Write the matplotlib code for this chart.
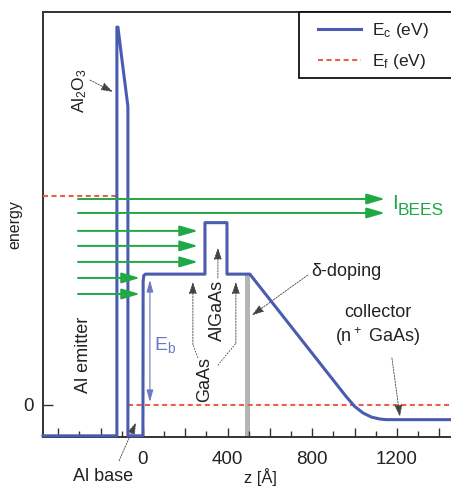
import numpy as np
import matplotlib
matplotlib.use("Agg")
import matplotlib.pyplot as plt
import matplotlib.ticker as ticker
from matplotlib.patches import Rectangle

plt.rcParams['font.family'] = ['Liberation Sans', 'DejaVu Sans']
plt.rcParams['mathtext.default'] = 'regular'

# conduction band edge (z in Angstrom, energy in eV)
ec_z = [-472, -123, -123, -118, -100, -85, -71, -71, 0, 1, 4, 12, 293, 293, 397, 397,
        505, 600, 700, 800, 900, 960, 1000, 1040, 1080, 1120, 1150, 1480]
ec_e = [-0.21, -0.21, 2.57, 2.57, 2.36, 2.19, 2.03, -0.21, -0.21, 0.84, 0.88, 0.89, 0.89, 1.24,
        1.24, 0.89, 0.89, 0.716, 0.533, 0.35, 0.167, 0.057, -0.01, -0.055, -0.083, -0.096,
        -0.10, -0.10]

# fermi levels
ef_emitter_z = [-472, -123]
ef_emitter_e = [1.42, 1.42]
ef_coll_z = [-71, 1480]
ef_coll_e = [0, 0]

# ballistic electron arrows
arrow_e = [1.401, 1.306, 1.184, 1.082, 0.973, 0.864, 0.755]
arrow_end = [1143, 1143, 260, 260, 260, -14, -14]
arrow_start = -307

delta_z = 492
eb_top = 0.85
eb_bottom = 0.02

blue = '#4a5cb0'
red = '#e9604a'
green = '#20a845'
txt = '#222222'

fig = plt.figure(figsize=(4.51, 4.90), dpi=100)
ax = fig.add_axes([43/451, 53/490, 412/451, 425/490])

ax.bar(delta_z, 0.89 + 0.22, width=24, bottom=-0.22, color='#b4b4b4', zorder=1)

ln_ec, = ax.plot(ec_z, ec_e, color=blue, lw=2.2, zorder=4, label='E$_c$ (eV)',
                 solid_joinstyle='round', clip_on=False)
ln_ef, = ax.plot(ef_coll_z, ef_coll_e, color=red, lw=1.5, ls=(0, (2.4, 1.7)), zorder=3,
                 label='E$_f$ (eV)')
ax.plot(ef_emitter_z, ef_emitter_e, color=red, lw=1.5, ls=(0, (2.4, 1.7)), zorder=3)

for e, zend in zip(arrow_e, arrow_end):
    ax.annotate('', xy=(zend, e), xytext=(arrow_start, e),
                arrowprops=dict(arrowstyle='-|>,head_length=1.1,head_width=0.32',
                                mutation_scale=10, color=green, lw=1.4,
                                shrinkA=0, shrinkB=0), zorder=5)

ax.text(1178, 1.37, 'I', color=green, fontsize=15, va='center', ha='left')
ax.text(1202, 1.32, 'BEES', color=green, fontsize=12.5, va='center', ha='left')

# E_b double arrow
ax.annotate('', xy=(33, eb_top), xytext=(33, eb_bottom),
            arrowprops=dict(arrowstyle='<|-|>,head_length=0.9,head_width=0.25',
                            mutation_scale=8, color='#6c78c6', lw=0.8,
                            shrinkA=0, shrinkB=0))
ax.text(104, 0.41, 'E$_b$', color='#6c78c6', fontsize=14, ha='center', va='center')

ann = dict(arrowstyle='-|>,head_length=0.9,head_width=0.3', mutation_scale=8,
           color='#444444', lw=0.6, ls=(0, (2, 1.5)), shrinkA=0, shrinkB=0)

ax.text(-298, 2.14, 'Al$_2$O$_3$', rotation=90, fontsize=12.5, color=txt,
        ha='center', va='center')
ax.annotate('', xy=(-142, 2.13), xytext=(-250, 2.21), arrowprops=ann)

ax.text(-283, 0.34, 'Al emitter', rotation=90, fontsize=13, color=txt,
        ha='center', va='center')

ax.text(-189, -0.49, 'Al base', fontsize=13, color=txt, ha='center', va='center',
        clip_on=False)
ax.annotate('', xy=(-33, -0.12), xytext=(-113, -0.38), arrowprops=ann,
            annotation_clip=False)

ax.text(350, 0.64, 'AlGaAs', rotation=90, fontsize=13, color=txt,
        ha='center', va='center')
ax.annotate('', xy=(354, 1.07), xytext=(354, 0.864), arrowprops=ann)

ax.text(293, 0.17, 'GaAs', rotation=90, fontsize=13, color=txt,
        ha='center', va='center')
ax.plot([260, 236], [0.32, 0.41], color='#444444', lw=0.6, ls=(0, (2, 1.5)))
ax.annotate('', xy=(236, 0.837), xytext=(236, 0.41), arrowprops=ann)
ax.plot([354, 439], [0.27, 0.42], color='#444444', lw=0.6, ls=(0, (2, 1.5)))
ax.annotate('', xy=(439, 0.837), xytext=(439, 0.42), arrowprops=ann)

ax.text(963, 0.905, '\u03b4-doping', fontsize=13, color=txt, ha='center', va='center')
ax.annotate('', xy=(515, 0.61), xytext=(779, 0.884), arrowprops=ann)

ax.text(1110, 0.626, 'collector', fontsize=13, color=txt, ha='center', va='center')
ax.text(1110, 0.463, '(n$^+$ GaAs)', fontsize=13, color=txt, ha='center', va='center')
ax.annotate('', xy=(1214, -0.08), xytext=(1176, 0.32), arrowprops=ann)

ax.set_xlim(-472, 1474)
ax.set_ylim(-0.218, 2.673)

ax.xaxis.set_major_locator(ticker.MultipleLocator(200))
ax.xaxis.set_minor_locator(ticker.MultipleLocator(100))
ax.xaxis.set_major_formatter(ticker.FuncFormatter(
    lambda v, p: '%d' % v if (v >= 0 and round(v) % 400 == 0) else ''))
ax.set_yticks([0])
ax.set_yticklabels(['0'])
ax.tick_params(axis='both', which='major', direction='in', length=6.5, width=1.0,
               labelsize=13.5, colors='#333333', labelcolor=txt)
ax.tick_params(axis='x', which='major', pad=10)
ax.tick_params(axis='y', which='major', pad=7, length=7)
ax.tick_params(axis='x', which='minor', direction='in', length=4, width=1.0,
               colors='#333333')
for s in ax.spines.values():
    s.set_linewidth(1.4)
    s.set_color('#333333')

ax.set_xlabel('z [\u00c5]', fontsize=12, color=txt, va='top')
ax.xaxis.set_label_coords((260 - 43) / 412, -31 / 425)
ax.set_ylabel('energy', fontsize=11.5, color=txt, va='center')
ax.yaxis.set_label_coords(-28 / 412, 0.5)

# legend box drawn by hand, entries placed without frame
fig.patches.append(Rectangle((299 / 451, 1 - 78 / 490), 160 / 451, 66 / 490,
                             transform=fig.transFigure, fill=True, facecolor='white',
                             edgecolor='#111111', lw=1.3, zorder=10))
leg = fig.legend(handles=[ln_ec, ln_ef], loc='upper left',
                 bbox_to_anchor=(318 / 451, 1 - 21 / 490), fontsize=12.5, frameon=False,
                 borderaxespad=0, borderpad=0, handlelength=2.5,
                 handletextpad=0.62, labelspacing=0.68)
leg.set_zorder(11)
for t in leg.get_texts():
    t.set_color(txt)

fig.savefig('out.png', dpi=100)
